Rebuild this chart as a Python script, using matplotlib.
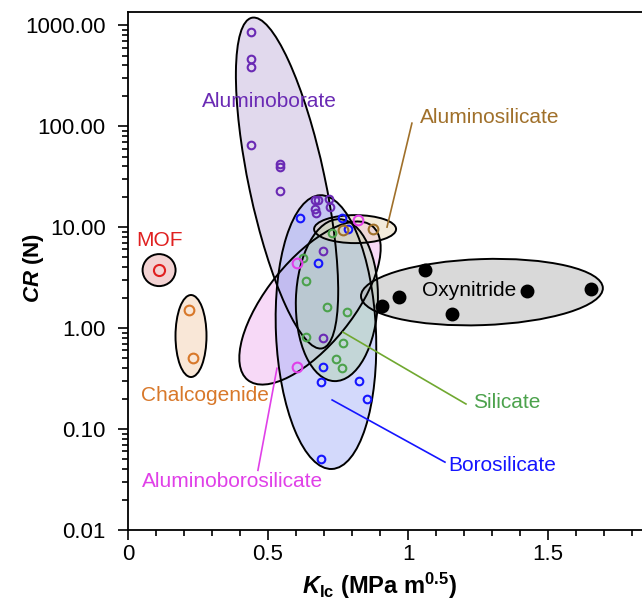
import numpy as np
import matplotlib
matplotlib.use("Agg")
import matplotlib.pyplot as plt
from matplotlib.patches import Ellipse
from matplotlib.transforms import ScaledTranslation
from matplotlib.ticker import FixedLocator, MultipleLocator, LogLocator, NullFormatter

plt.rcParams['font.family'] = ['Liberation Sans', 'DejaVu Sans']
plt.rcParams['mathtext.fontset'] = 'custom'
plt.rcParams['mathtext.rm'] = 'Liberation Sans'
plt.rcParams['mathtext.it'] = 'Liberation Sans:italic'
plt.rcParams['mathtext.bf'] = 'Liberation Sans:bold'
plt.rcParams['mathtext.bfit'] = 'Liberation Sans:bold:italic'

# ---------------- data ----------------
aluminoborate_k = [0.439, 0.439, 0.439, 0.439, 0.543, 0.543, 0.543, 0.668, 0.679, 0.718, 0.668, 0.721, 0.671, 0.696, 0.696]
aluminoborate_cr = [851, 460, 384, 65, 42, 39, 22.7, 18.5, 18.5, 18.9, 15.1, 15.8, 13.8, 5.8, 0.80]

borosilicate_k = [0.614, 0.764, 0.786, 0.679, 0.696, 0.689, 0.825, 0.854, 0.689]
borosilicate_cr = [12.3, 12.3, 9.5, 4.4, 0.41, 0.29, 0.30, 0.20, 0.050]

silicate_k = [0.729, 0.625, 0.636, 0.711, 0.782, 0.636, 0.768, 0.743, 0.764]
silicate_cr = [8.7, 4.9, 2.9, 1.6, 1.44, 0.81, 0.71, 0.49, 0.40]

alborosilicate_k = [0.821, 0.604, 0.604]
alborosilicate_cr = [11.7, 4.4, 0.41]

aluminosilicate_k = [0.768, 0.875]
aluminosilicate_cr = [9.3, 9.5]

mof_k = [0.111]
mof_cr = [3.75]

chalcogenide_k = [0.218, 0.232]
chalcogenide_cr = [1.51, 0.50]

oxynitride_k = [1.061, 0.968, 0.907, 1.157, 1.425, 1.654]
oxynitride_cr = [3.75, 2.03, 1.65, 1.38, 2.32, 2.43]

x_ticks = [0, 0.5, 1, 1.5]
x_ticklabels = ["0", "0.5", "1", "1.5"]
y_ticks = [0.01, 0.1, 1, 10, 100, 1000]
y_ticklabels = ["0.01", "0.10", "1.00", "10.00", "100.00", "1000.00"]

# group envelopes: centre (K, CR), width/height in inches, rotation in degrees
env_names = ["Aluminoborosilicate", "Aluminoborate", "Borosilicate", "Silicate",
             "Aluminosilicate", "Oxynitride", "MOF", "Chalcogenide"]
env_cx = [0.65, 0.568, 0.707, 0.746, 0.811, 1.264, 0.111, 0.225]
env_cy = [1.77, 27.3, 0.912, 1.89, 9.55, 2.27, 3.75, 0.834]
env_w = [1.98, 0.76, 1.00, 0.82, 0.82, 2.42, 0.33, 0.31]
env_h = [0.86, 3.38, 2.74, 1.62, 0.28, 0.66, 0.32, 0.82]
env_ang = [51, 12, 2.5, -1.8, 0, 2, 0, 0]
env_face = ['#f0b4f0', '#c4b4dc', '#a8b4f8', '#b4d4b4', '#e8d8b8', '#b4b4b4', '#e8a8a8', '#f4d0b0']

c_purple = '#6a2ab4'
c_blue = '#1515ff'
c_green = '#4ca24c'
c_magenta = '#e040e8'
c_brown = '#a0702a'
c_red = '#e02020'
c_orange = '#d8782a'

fig = plt.figure(figsize=(6.42, 6.01), dpi=100)
ax = fig.add_axes([128/642, 71/601, 1 - 128/642, (530-12)/601])
ax.set_yscale('log')
ax.set_xlim(0, (642-128)/280)
ax.set_ylim(0.01, 1350)

for cx, cy, w, h, a, fc in zip(env_cx, env_cy, env_w, env_h, env_ang, env_face):
    tr = fig.dpi_scale_trans + ScaledTranslation(cx, cy, ax.transData)
    e = Ellipse((0, 0), w, h, angle=a, transform=tr, facecolor=fc, alpha=0.5,
                edgecolor='none', zorder=1)
    ax.add_patch(e)
    e2 = Ellipse((0, 0), w, h, angle=a, transform=tr, facecolor='none',
                 edgecolor='black', lw=1.4, zorder=2)
    ax.add_patch(e2)

def pts(xs, ys, col, ms=5.5, filled=False):
    ax.plot(xs, ys, 'o', ls='none', ms=ms, mew=1.5, mec=col,
            mfc=col if filled else 'none', zorder=4)

pts(aluminoborate_k, aluminoborate_cr, c_purple)
pts(silicate_k, silicate_cr, c_green)
pts(borosilicate_k, borosilicate_cr, c_blue)
pts(alborosilicate_k, alborosilicate_cr, c_magenta, ms=7)
pts(aluminosilicate_k, aluminosilicate_cr, c_brown, ms=7)
pts(mof_k, mof_cr, c_red, ms=8)
pts(chalcogenide_k, chalcogenide_cr, c_orange, ms=7)
pts(oxynitride_k, oxynitride_cr, 'black', ms=8.5, filled=True)

# leader lines
ax.plot([1.014, 0.925], [107, 10.0], color=c_brown, lw=1.2, zorder=3)
ax.plot([0.768, 1.207], [0.91, 0.177], color='#70a830', lw=1.2, zorder=3)
ax.plot([0.729, 1.132], [0.194, 0.047], color=c_blue, lw=1.2, zorder=3)
ax.plot([0.532, 0.464], [0.40, 0.039], color=c_magenta, lw=1.2, zorder=3)

fs = 15
ax.text(0.504, 177, "Aluminoborate", color=c_purple, fontsize=fs, ha='center', va='center', zorder=5)
ax.text(1.043, 123, "Aluminosilicate", color=c_brown, fontsize=fs, ha='left', va='center', zorder=5)
ax.text(0.111, 7.3, "MOF", color=c_red, fontsize=fs, ha='center', va='center', zorder=5)
ax.text(1.218, 2.38, "Oxynitride", color='black', fontsize=fs, ha='center', va='center', zorder=5)
ax.text(0.275, 0.217, "Chalcogenide", color=c_orange, fontsize=fs, ha='center', va='center', zorder=5)
ax.text(1.354, 0.185, "Silicate", color=c_green, fontsize=fs, ha='center', va='center', zorder=5)
ax.text(1.336, 0.044, "Borosilicate", color=c_blue, fontsize=fs, ha='center', va='center', zorder=5)
ax.text(0.375, 0.030, "Aluminoborosilicate", color=c_magenta, fontsize=fs, ha='center', va='center', zorder=5)

ax.xaxis.set_major_locator(FixedLocator(x_ticks))
ax.set_xticklabels(x_ticklabels)
ax.xaxis.set_minor_locator(MultipleLocator(0.1))
ax.yaxis.set_major_locator(FixedLocator(y_ticks))
ax.set_yticklabels(y_ticklabels)
ax.yaxis.set_minor_locator(LogLocator(base=10, subs=np.arange(2, 10)))
ax.yaxis.set_minor_formatter(NullFormatter())
ax.tick_params(which='both', direction='out', labelsize=16, width=1.2, color='black')
ax.tick_params(which='major', length=7)
ax.tick_params(which='minor', length=4.5)
ax.tick_params(axis='x', pad=3)
ax.tick_params(axis='y', pad=9)
ax.spines['right'].set_visible(False)
for s in ['left', 'bottom', 'top']:
    ax.spines[s].set_linewidth(1.3)

ax.set_ylabel(r"$\mathbfit{CR}$ (N)", fontsize=16, fontweight='bold')
ax.yaxis.set_label_coords(-0.16, 0.506)
ax.set_xlabel(r"$\mathbfit{K}_{\mathbf{Ic}}$ (MPa m$^{\mathbf{0.5}}$)", fontsize=17, fontweight='bold')
ax.xaxis.set_label_coords(0.49, -0.078)

fig.savefig("out.png", dpi=100)
